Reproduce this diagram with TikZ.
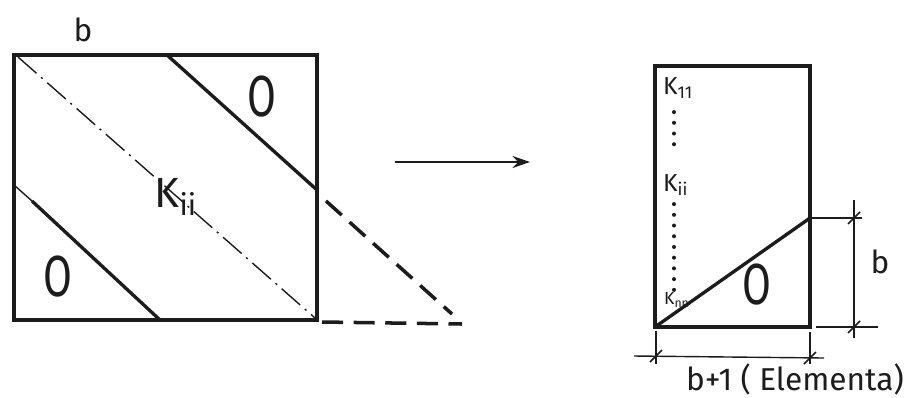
\documentclass[tikz,border=0pt]{standalone}
\usepackage{fontspec}
\setsansfont{Fira Sans}
\usetikzlibrary{arrows.meta, positioning, calc}
\definecolor{cink}{HTML}{1C1C1C}
\newcommand{\nullmark}{\scalebox{0.72}[1]{O}}
\tikzset{
  every picture/.style={font=\sffamily, line width=1.6pt},
  edge/.style={draw=cink, line width=1.9pt},
  axis/.style={draw=cink, line width=0.8pt, dash pattern=on 14pt off 3.5pt on 1.2pt off 3.5pt},
  ghost/.style={draw=cink, line width=2pt, dash pattern=on 12pt off 6pt},
  dimline/.style={draw=cink, line width=0.8pt},
  tick/.style={draw=cink, line width=0.9pt},
  dots/.style={draw=cink, line width=2.2pt, line cap=round, dash pattern=on 0.1pt off 6pt},
  arrow/.style={-{Stealth[length=3.5mm, width=2.4mm]}, draw=cink, line width=1.2pt},
  zero/.style={font=\sffamily\fontsize{33}{33}\selectfont, text=cink, inner sep=0pt},
  term/.style={font=\sffamily\fontsize{14}{14}\selectfont, text=cink, inner sep=1pt, anchor=west},
  note/.style={font=\sffamily\fontsize{18}{18}\selectfont, text=cink},
}

\begin{document}
\begin{tikzpicture}[x=0.02cm, y=-0.02cm]
  \useasboundingbox (0,0) rectangle (909,397);

  % full band matrix
  \coordinate (tl) at (14,55);
  \coordinate (br) at (317,320);
  \draw[edge] (tl) rectangle (br);
  \coordinate (u1) at (167,55);  \coordinate (u2) at (317,190);
  \coordinate (l1) at (14,185);  \coordinate (lm) at (32,201);  \coordinate (l2) at (160,320);
  \coordinate (d1) at (18,57);   \coordinate (d2) at (315,318);
  \draw[edge] (u1) -- (u2);
  \draw[axis] (l1) -- (lm);
  \draw[edge] (lm) -- (l2);
  \draw[axis] (d1) -- (d2);
  \coordinate (g1) at (326,201); \coordinate (g2) at (452,314);
  \coordinate (h1) at (322,322); \coordinate (h2) at (462,324);
  \draw[ghost] (g1) -- (g2);
  \draw[ghost] (h1) -- (h2);
  \node[note] (bw) at (83,30) {b};
  \node[zero] (zu) at (262,97) {\nullmark};
  \node[zero] (zl) at (58,277) {\nullmark};
  \node[font=\sffamily\fontsize{24}{24}\selectfont, text=cink] (kii) at (176,197) {K\textsubscript{ii}};

  % arrow
  \coordinate (a1) at (395,162); \coordinate (a2) at (530,162);
  \draw[arrow] (a1) -- (a2);

  % compact storage
  \coordinate (rtl) at (655,66);  \coordinate (rbr) at (810,327);
  \coordinate (rbl) at (655,327); \coordinate (rm) at (810,218);
  \draw[edge] (rtl) rectangle (rbr);
  \draw[edge] (rbl) -- (rm);
  \node[term] (k11) at (660,88) {K\textsubscript{11}};
  \node[term] (kir) at (660,185) {K\textsubscript{ii}};
  \node[term, font=\sffamily\fontsize{10}{10}\selectfont] (knn) at (661,300) {K\textsubscript{nn}};
  \coordinate (s1) at (674,112); \coordinate (s2) at (674,148);
  \coordinate (s3) at (674,204); \coordinate (s4) at (674,292);
  \draw[dots] (s1) -- (s2);
  \draw[dots] (s3) -- (s4);
  \node[zero] (zr) at (757,285) {\nullmark};

  % dimensions
  \coordinate (e1) at (862,218); \coordinate (e0) at (816,327); \coordinate (e2) at (878,327);
  \coordinate (v1) at (854,200); \coordinate (v2) at (854,338);
  \draw[dimline] (rm) -- (e1);
  \draw[dimline] (e0) -- (e2);
  \draw[dimline] (v1) -- (v2);
  \coordinate (f1) at (656,331); \coordinate (f2) at (656,364);
  \coordinate (f3) at (810,332); \coordinate (f4) at (810,364);
  \coordinate (w1) at (634,356); \coordinate (w2) at (824,358);
  \draw[dimline] (f1) -- (f2);
  \draw[dimline] (f3) -- (f4);
  \draw[dimline] (w1) -- (w2);
  \coordinate (t1) at (854,218); \coordinate (t2) at (854,327);
  \coordinate (t3) at (656,356); \coordinate (t4) at (810,358);
  \foreach \p in {t1,t2,t3,t4}
    \draw[tick] (\p) ++(-6,6) -- ++(12,-12);
  \node[note] (bh) at (880,262) {b};
  \node[note] (bb) at (795,379) {b+1 ( Elementa)};
\end{tikzpicture}
\end{document}
